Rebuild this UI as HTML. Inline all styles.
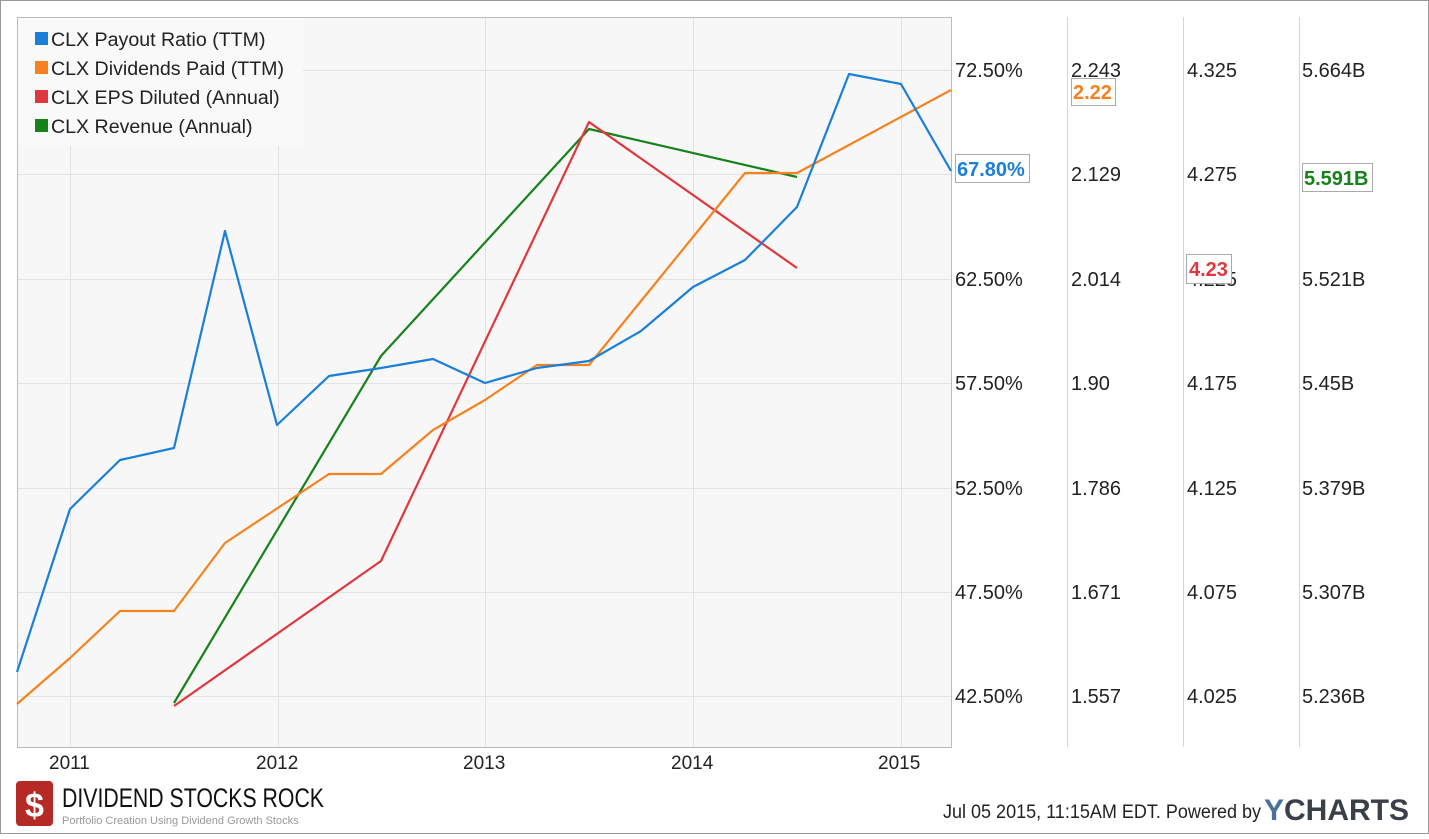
<!DOCTYPE html>
<html><head><meta charset="utf-8"><style>
body{margin:0;background:#fff;}
svg text{font-family:"Liberation Sans",Arial,sans-serif;}
</style></head><body>
<svg width="1429" height="834" xmlns="http://www.w3.org/2000/svg">
<rect x="0.5" y="0.5" width="1428" height="833" fill="#fff" stroke="#999"/>
<rect x="17.5" y="17.5" width="934" height="730" fill="#f7f7f7" stroke="#bbb"/>
<g stroke="#e2e2e2" stroke-width="1">
<line x1="18" y1="70.5" x2="951" y2="70.5"/><line x1="18" y1="174.5" x2="951" y2="174.5"/>
<line x1="18" y1="279.5" x2="951" y2="279.5"/><line x1="18" y1="383.5" x2="951" y2="383.5"/>
<line x1="18" y1="488.5" x2="951" y2="488.5"/><line x1="18" y1="592.5" x2="951" y2="592.5"/>
<line x1="18" y1="696.5" x2="951" y2="696.5"/>
<line x1="70.5" y1="18" x2="70.5" y2="747"/><line x1="278.5" y1="18" x2="278.5" y2="747"/>
<line x1="485.5" y1="18" x2="485.5" y2="747"/><line x1="693.5" y1="18" x2="693.5" y2="747"/>
<line x1="901.5" y1="18" x2="901.5" y2="747"/>
</g>
<g stroke="#d5d5d5"><line x1="1067.5" y1="17" x2="1067.5" y2="747"/><line x1="1183.5" y1="17" x2="1183.5" y2="747"/><line x1="1299.5" y1="17" x2="1299.5" y2="747"/></g>
<rect x="18" y="18" width="285" height="128" fill="#f9f9f9"/>
<g font-size="19.6" fill="#222">
<rect x="35" y="32" width="13" height="13" fill="#1a7fd9"/><text x="51" y="46">CLX Payout Ratio (TTM)</text>
<rect x="35" y="61" width="13" height="13" fill="#f5821f"/><text x="51" y="75">CLX Dividends Paid (TTM)</text>
<rect x="35" y="90" width="13" height="13" fill="#e0373e"/><text x="51" y="104">CLX EPS Diluted (Annual)</text>
<rect x="35" y="119" width="13" height="13" fill="#16821a"/><text x="51" y="133">CLX Revenue (Annual)</text>
</g>
<g fill="none" stroke-width="2.2" stroke-linejoin="round">
<polyline stroke="#16821a" points="174,703 381,356 589,129 797,177"/>
<polyline stroke="#e0373e" points="174,706 381,561 589,122 797,268"/>
<polyline stroke="#f5821f" points="17,704 70,658 120,611 174,611 225,543 329,474 381,474 433,430 485,400 537,365 589,365 641,301 693,237 745,173 797,173 951,90"/>
<polyline stroke="#1a7fd9" points="17,672 70,509 120,460 174,448 225,231 277,425 329,376 381,368 433,359 485,383 537,368 589,361 641,331 693,287 745,260 797,207 849,74 901,84 951,171"/>
</g>
<g font-size="20" fill="#222">
<text x="955" y="77">72.50%</text><text x="955" y="286">62.50%</text><text x="955" y="390">57.50%</text><text x="955" y="495">52.50%</text><text x="955" y="599">47.50%</text><text x="955" y="703">42.50%</text>
<text x="1071" y="77">2.243</text><text x="1071" y="181">2.129</text><text x="1071" y="286">2.014</text><text x="1071" y="390">1.90</text><text x="1071" y="495">1.786</text><text x="1071" y="599">1.671</text><text x="1071" y="703">1.557</text>
<text x="1187" y="77">4.325</text><text x="1187" y="181">4.275</text><text x="1187" y="286">4.225</text><text x="1187" y="390">4.175</text><text x="1187" y="495">4.125</text><text x="1187" y="599">4.075</text><text x="1187" y="703">4.025</text>
<text x="1302" y="77">5.664B</text><text x="1302" y="286">5.521B</text><text x="1302" y="390">5.45B</text><text x="1302" y="495">5.379B</text><text x="1302" y="599">5.307B</text><text x="1302" y="703">5.236B</text>
</g>
<g font-size="19" fill="#222">
<text x="49" y="769">2011</text><text x="256" y="769">2012</text><text x="463" y="769">2013</text><text x="671" y="769">2014</text><text x="878" y="769">2015</text>
</g>
<g font-size="20" font-weight="bold">
<rect x="955.5" y="154.5" width="74" height="28" fill="#fff" stroke="#aaa"/><text x="957" y="176" fill="#1a7fd9">67.80%</text>
<rect x="1071.5" y="78.5" width="44" height="27" fill="#fff" stroke="#aaa"/><text x="1073" y="99" fill="#f5821f">2.22</text>
<rect x="1186.5" y="254.5" width="45" height="29" fill="#fff" stroke="#aaa"/><text x="1189" y="276" fill="#e0373e">4.23</text>
<rect x="1302.5" y="163.5" width="70" height="28" fill="#fff" stroke="#aaa"/><text x="1304" y="185" fill="#16821a">5.591B</text>
</g>
<rect x="16" y="781" width="37" height="45" rx="4" fill="#b52a24"/>
<text x="25" y="817" font-size="34" font-weight="bold" fill="#fff">$</text>
<text x="62" y="807" font-size="27" fill="#111" textLength="262" lengthAdjust="spacingAndGlyphs">DIVIDEND STOCKS ROCK</text>
<text x="62" y="824" font-size="11" fill="#999">Portfolio Creation Using Dividend Growth Stocks</text>
<text x="943" y="818" font-size="19" fill="#222" textLength="318" lengthAdjust="spacingAndGlyphs">Jul 05 2015, 11:15AM EDT. Powered by</text>
<text x="1264" y="820" font-size="30" font-weight="bold" fill="#3a3f4a"><tspan fill="#4a6f9c">Y</tspan>CHARTS</text>
</svg>
</body></html>
